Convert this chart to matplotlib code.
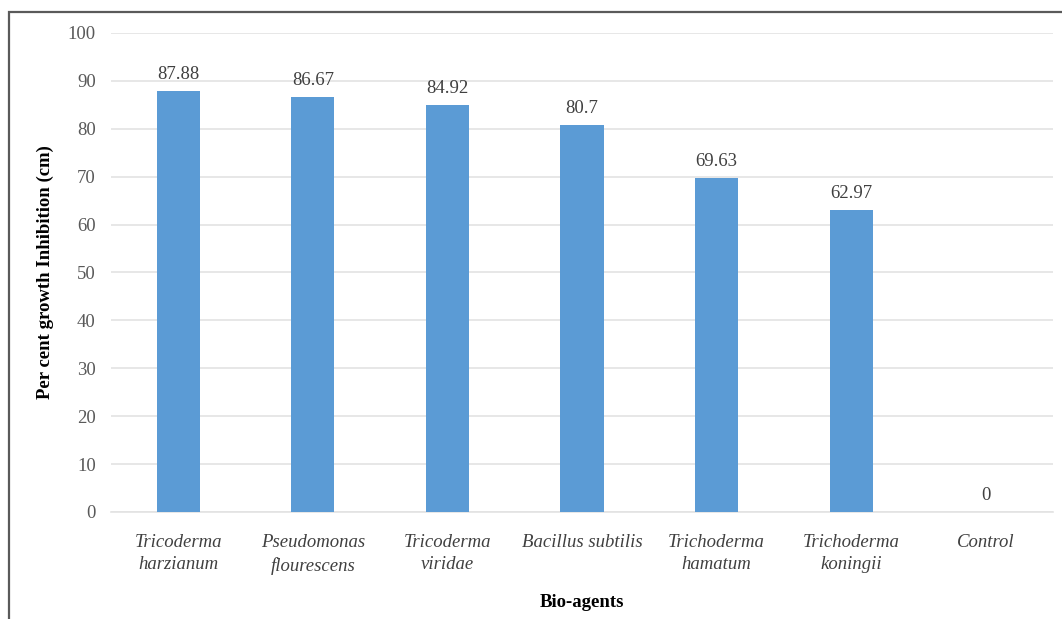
import numpy as np
import matplotlib.pyplot as plt
from matplotlib.patches import Rectangle

plt.rcParams['font.family'] = ['Liberation Serif', 'DejaVu Serif']

agents = [
    'Tricoderma\nharzianum',
    'Pseudomonas\nflourescens',
    'Tricoderma\nviridae',
    'Bacillus subtilis',
    'Trichoderma\nhamatum',
    'Trichoderma\nkoningii',
    'Control',
]
inhibition = [87.88, 86.67, 84.92, 80.7, 69.63, 62.97, 0]
value_labels = ['87.88', '86.67', '84.92', '80.7', '69.63', '62.97', '0']
yticks = [0, 10, 20, 30, 40, 50, 60, 70, 80, 90, 100]

fig = plt.figure(figsize=(10.62, 6.19), dpi=100)
ax = fig.add_axes([0.1045, 0.1729, 0.887, 0.7738])

x = np.arange(len(agents))
bars = ax.bar(x, inhibition, width=0.32, color='#5b9bd5', zorder=3)

for rect, lab in zip(bars, value_labels):
    ax.annotate(lab, (rect.get_x() + rect.get_width() / 2, rect.get_height()),
                xytext=(0, 6), textcoords='offset points',
                ha='center', va='bottom', fontsize=13.5, color='#404040')

ax.set_xlim(-0.5, len(agents) - 0.5)
ax.set_ylim(0, 100)
ax.set_yticks(yticks)
ax.set_xticks(x)
ax.set_xticklabels(agents, fontstyle='italic', fontsize=13.5, color='#404040',
                   linespacing=1.4)
ax.tick_params(axis='x', length=0, pad=16)
ax.tick_params(axis='y', length=0, pad=11, labelsize=13.5, labelcolor='#595959')

ax.yaxis.grid(True, color='#e3e3e3', linewidth=1.2, zorder=0)
for side in ['top', 'right', 'left']:
    ax.spines[side].set_visible(False)
ax.spines['bottom'].set_color('#e3e3e3')
ax.spines['bottom'].set_linewidth(1.2)

ax.set_ylabel('Per cent growth Inhibition (cm)', fontweight='bold', fontsize=13.5,
              labelpad=10)
ax.set_xlabel('Bio-agents', fontweight='bold', fontsize=13.5, labelpad=14)

# frame around the chart area
fig.patches.append(Rectangle((9 / 1062, -0.1), 1.2, 1 - 12 / 619 + 0.1,
                             transform=fig.transFigure, fill=False,
                             edgecolor='#5a5a5a', linewidth=1.6))

fig.savefig('out.png', dpi=100)
